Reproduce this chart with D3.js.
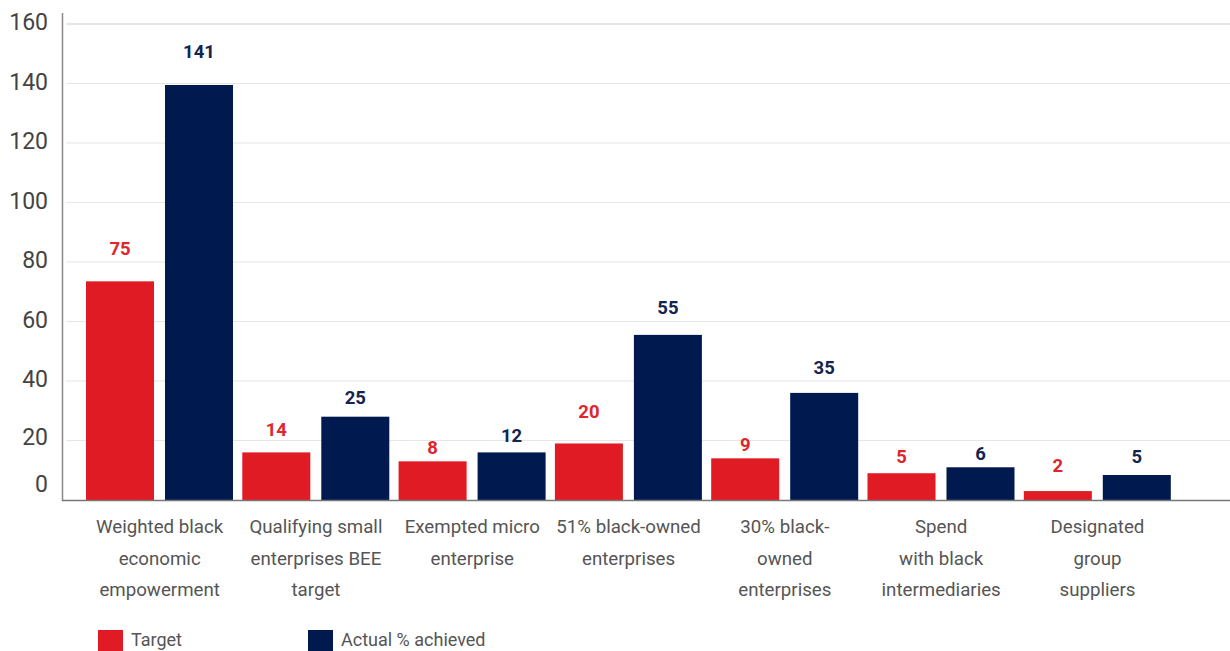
<!DOCTYPE html>
<html>
<head>
<meta charset="utf-8" />
<title>BEE procurement</title>
<script src="https://d3js.org/d3.v7.min.js"></script>
<style>
  body { margin: 0; background: #fff; }
  svg { display: block; font-family: Roboto, "Noto Sans", sans-serif; }
</style>
</head>
<body>
<svg width="1230" height="651"></svg>
<script>
    // Data
    var categories = [
        ["Weighted black", "economic", "empowerment"],
        ["Qualifying small", "enterprises BEE", "target"],
        ["Exempted micro", "enterprise"],
        ["51% black-owned", "enterprises"],
        ["30% black-", "owned", "enterprises"],
        ["Spend", "with black", "intermediaries"],
        ["Designated", "group", "suppliers"]
    ];
    var seriesNames = ["Target", "Actual % achieved"];
    // bar heights as drawn in the picture
    var targetBars = [73.5, 16, 13, 19, 14, 9, 3];
    var actualBars = [139.5, 28, 16, 55.5, 36, 11, 8.4];
    // value labels printed above the bars
    var targetLabels = [75, 14, 8, 20, 9, 5, 2];
    var actualLabels = [141, 25, 12, 55, 35, 6, 5];
    var yTicks = [0, 20, 40, 60, 80, 100, 120, 140, 160];

    var colors = ["#e01b23", "#001a50"];
    var labelColors = ["#e0252c", "#14244f"];

    var svg = d3.select("svg");

    var keys = categories.map(function (c, i) { return "c" + i; });
    var rows = keys.map(function (k, i) {
        return {
            key: k,
            lines: categories[i],
            vals: [
                { s: 0, bar: targetBars[i], label: targetLabels[i] },
                { s: 1, bar: actualBars[i], label: actualLabels[i] }
            ]
        };
    });

    // Scales
    var x0 = d3.scaleBand().domain(keys).range([81.5, 1175.6]).padding(0);
    var x1 = d3.scaleBand().domain([0, 1]).range([4.5, 151.5]).paddingInner(0.139).paddingOuter(0);
    var y = d3.scaleLinear().domain([0, 160]).range([500, 24]);

    // Gridlines
    svg.append("g")
        .selectAll("line")
        .data(yTicks.filter(function (d) { return d > 0; }))
        .enter()
        .append("line")
        .attr("x1", 66)
        .attr("x2", 1230)
        .attr("y1", function (d) { return y(d); })
        .attr("y2", function (d) { return y(d); })
        .attr("stroke", "#e6e6e6")
        .attr("stroke-width", function (d) { return d === 160 ? 2 : 1.2; });

    // Y tick labels
    svg.append("g")
        .selectAll("text")
        .data(yTicks)
        .enter()
        .append("text")
        .attr("x", 48)
        .attr("y", function (d) { return y(d) - (d === 0 ? 14 : d === 20 ? 2 : 0); })
        .attr("text-anchor", "end")
        .attr("dominant-baseline", "middle")
        .attr("fill", "#444")
        .style("font-size", "23px")
        .text(function (d) { return d; });

    // Bars
    var groups = svg.append("g")
        .selectAll("g")
        .data(rows)
        .enter()
        .append("g")
        .attr("transform", function (d) { return "translate(" + x0(d.key) + ",0)"; });

    groups.selectAll("rect")
        .data(function (d) { return d.vals; })
        .enter()
        .append("rect")
        .attr("x", function (d) { return x1(d.s); })
        .attr("y", function (d) { return y(d.bar); })
        .attr("width", x1.bandwidth())
        .attr("height", function (d) { return y(0) - y(d.bar); })
        .attr("fill", function (d) { return colors[d.s]; });

    groups.selectAll("text")
        .data(function (d) { return d.vals; })
        .enter()
        .append("text")
        .attr("x", function (d) { return x1(d.s) + x1.bandwidth() / 2; })
        .attr("y", function (d) { return y(d.label) - 27; })
        .attr("text-anchor", "middle")
        .attr("dominant-baseline", "middle")
        .attr("fill", function (d) { return labelColors[d.s]; })
        .style("font-size", "18.5px")
        .style("font-weight", "bold")
        .text(function (d) { return d.label; });

    // Axes lines
    svg.append("line")
        .attr("x1", 62.5).attr("x2", 62.5)
        .attr("y1", 13).attr("y2", 501)
        .attr("stroke", "#8a8a8a").attr("stroke-width", 1.5);
    svg.append("line")
        .attr("x1", 62).attr("x2", 1230)
        .attr("y1", 500.5).attr("y2", 500.5)
        .attr("stroke", "#777").attr("stroke-width", 1.5);

    // Category labels
    var cat = svg.append("g")
        .selectAll("text")
        .data(rows)
        .enter()
        .append("text")
        .attr("text-anchor", "middle")
        .attr("fill", "#555")
        .style("font-size", "18.7px");
    cat.selectAll("tspan")
        .data(function (d) {
            return d.lines.map(function (l, j) { return { t: l, j: j, key: d.key }; });
        })
        .enter()
        .append("tspan")
        .attr("x", function (d) { return x0(d.key) + x0.bandwidth() / 2; })
        .attr("y", function (d) { return 533 + d.j * 31.5; })
        .text(function (d) { return d.t; });

    // Legend
    var legend = svg.append("g")
        .selectAll("g")
        .data(seriesNames)
        .enter()
        .append("g")
        .attr("transform", function (d, i) { return "translate(" + (98 + i * 210) + ",630)"; });
    legend.append("rect")
        .attr("width", 25)
        .attr("height", 21)
        .attr("fill", function (d, i) { return colors[i]; });
    legend.append("text")
        .attr("x", 33)
        .attr("y", 16)
        .attr("fill", "#555")
        .style("font-size", "18px")
        .text(function (d) { return d; });
</script>
</body>
</html>
